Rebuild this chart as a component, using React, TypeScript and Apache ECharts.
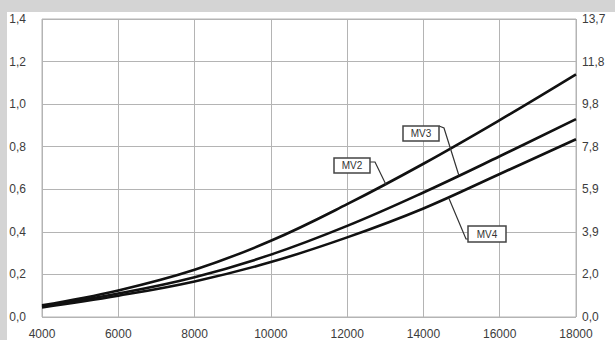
import React, { useEffect, useRef } from "react";
import * as echarts from "echarts";

const xValues = [4000, 6000, 8000, 10000, 12000, 14000, 16000, 18000];
const mv2 = [0.055, 0.125, 0.222, 0.358, 0.53, 0.72, 0.925, 1.14];
const mv3 = [0.05, 0.11, 0.187, 0.293, 0.428, 0.585, 0.755, 0.93];
const mv4 = [0.045, 0.1, 0.167, 0.258, 0.374, 0.51, 0.672, 0.835];
const xTickLabels = ["4000", "6000", "8000", "10000", "12000", "14000", "16000", "18000"];
const leftTickLabels = ["0,0", "0,2", "0,4", "0,6", "0,8", "1,0", "1,2", "1,4"];
const rightTickLabels = ["0,0", "2,0", "3,9", "5,9", "7,8", "9,8", "11,8", "13,7"];
const seriesNames = ["MV2", "MV3", "MV4"];
// annotation anchors (data coords of arrow tips)
const anchorX = [13020, 14930, 14670];
const anchorY = [0.621, 0.665, 0.557];

const GRID_COLOR = "#b4b4b4";
const TEXT_COLOR = "#3c3c3c";

export default function App() {
  const ref = useRef<HTMLDivElement>(null);
  useEffect(() => {
    if (!ref.current) return;
    const chart = echarts.init(ref.current, null, { renderer: "svg" });
    const toPairs = (arr: number[]) => arr.map((v, i) => [xValues[i], v]);
    const series = [mv2, mv3, mv4].map((arr, i) => ({
      name: seriesNames[i],
      type: "line",
      data: toPairs(arr),
      smooth: 0.4,
      symbol: "none",
      lineStyle: { color: "#111", width: 2.6 },
      z: 5,
    }));
    chart.setOption({
      animation: false,
      backgroundColor: "#ffffff",
      textStyle: { fontFamily: "Liberation Sans, Arial, sans-serif" },
      grid: {
        left: 42,
        top: 19,
        width: 534,
        height: 300,
        show: true,
        borderColor: GRID_COLOR,
        borderWidth: 1,
      },
      xAxis: {
        type: "value",
        min: 4000,
        max: 18000,
        interval: 2000,
        axisLine: { show: false },
        axisTick: { show: false },
        splitLine: { show: true, lineStyle: { color: GRID_COLOR, width: 1 } },
        axisLabel: {
          color: TEXT_COLOR,
          fontSize: 12,
          margin: 11,
          formatter: (v: number) => xTickLabels[Math.round((v - 4000) / 2000)] ?? "",
        },
      },
      yAxis: [
        {
          type: "value",
          min: 0,
          max: 1.4,
          interval: 0.2,
          position: "left",
          axisLine: { show: false },
          axisTick: { show: false },
          splitLine: { show: true, lineStyle: { color: GRID_COLOR, width: 1 } },
          axisLabel: {
            color: TEXT_COLOR,
            fontSize: 12,
            margin: 16,
            formatter: (v: number) => leftTickLabels[Math.round(v / 0.2)] ?? "",
          },
        },
        {
          type: "value",
          min: 0,
          max: 1.4,
          interval: 0.2,
          position: "right",
          axisLine: { show: false },
          axisTick: { show: false },
          splitLine: { show: false },
          axisLabel: {
            color: TEXT_COLOR,
            fontSize: 12,
            margin: 6,
            formatter: (v: number) => rightTickLabels[Math.round(v / 0.2)] ?? "",
          },
        },
      ],
      series,
    });

    const tips = anchorX.map((x, i) => chart.convertToPixel({ gridIndex: 0 }, [x, anchorY[i]]) as number[]);
    const boxes = [
      { x: 334, y: 158, w: 36, h: 15 },
      { x: 403, y: 126, w: 36, h: 15 },
      { x: 468, y: 226, w: 38, h: 16 },
    ];
    const leaders = [
      [[370, 162], [375, 162], tips[0]],
      [[439, 126], [444, 128], tips[1]],
      [[468, 239], [466, 239], tips[2]],
    ];
    const graphic: any[] = [
      { type: "rect", shape: { x: 0, y: 0, width: 615, height: 12 }, style: { fill: "#d4d4d4" }, silent: true },
      { type: "rect", shape: { x: 0, y: 0, width: 7, height: 340 }, style: { fill: "#d4d4d4" }, silent: true },
    ];
    leaders.forEach((pts) => {
      graphic.push({
        type: "polyline",
        shape: { points: pts },
        style: { stroke: "#333", lineWidth: 1.2, fill: null },
        z: 10,
      });
    });
    boxes.forEach((b, i) => {
      graphic.push({
        type: "rect",
        shape: { x: b.x, y: b.y, width: b.w, height: b.h },
        style: { fill: "#ffffff", stroke: "#444", lineWidth: 1.5 },
        z: 11,
      });
      graphic.push({
        type: "text",
        x: b.x + b.w / 2,
        y: b.y + b.h / 2,
        style: {
          text: seriesNames[i],
          fill: "#333",
          font: "10px Liberation Sans, Arial, sans-serif",
          align: "center",
          verticalAlign: "middle",
        },
        z: 12,
      });
    });
    chart.setOption({ graphic });
    return () => chart.dispose();
  }, []);
  return (
    <div
      ref={ref}
      style={{ position: "fixed", left: 0, top: 0, width: 615, height: 340 }}
    />
  );
}
